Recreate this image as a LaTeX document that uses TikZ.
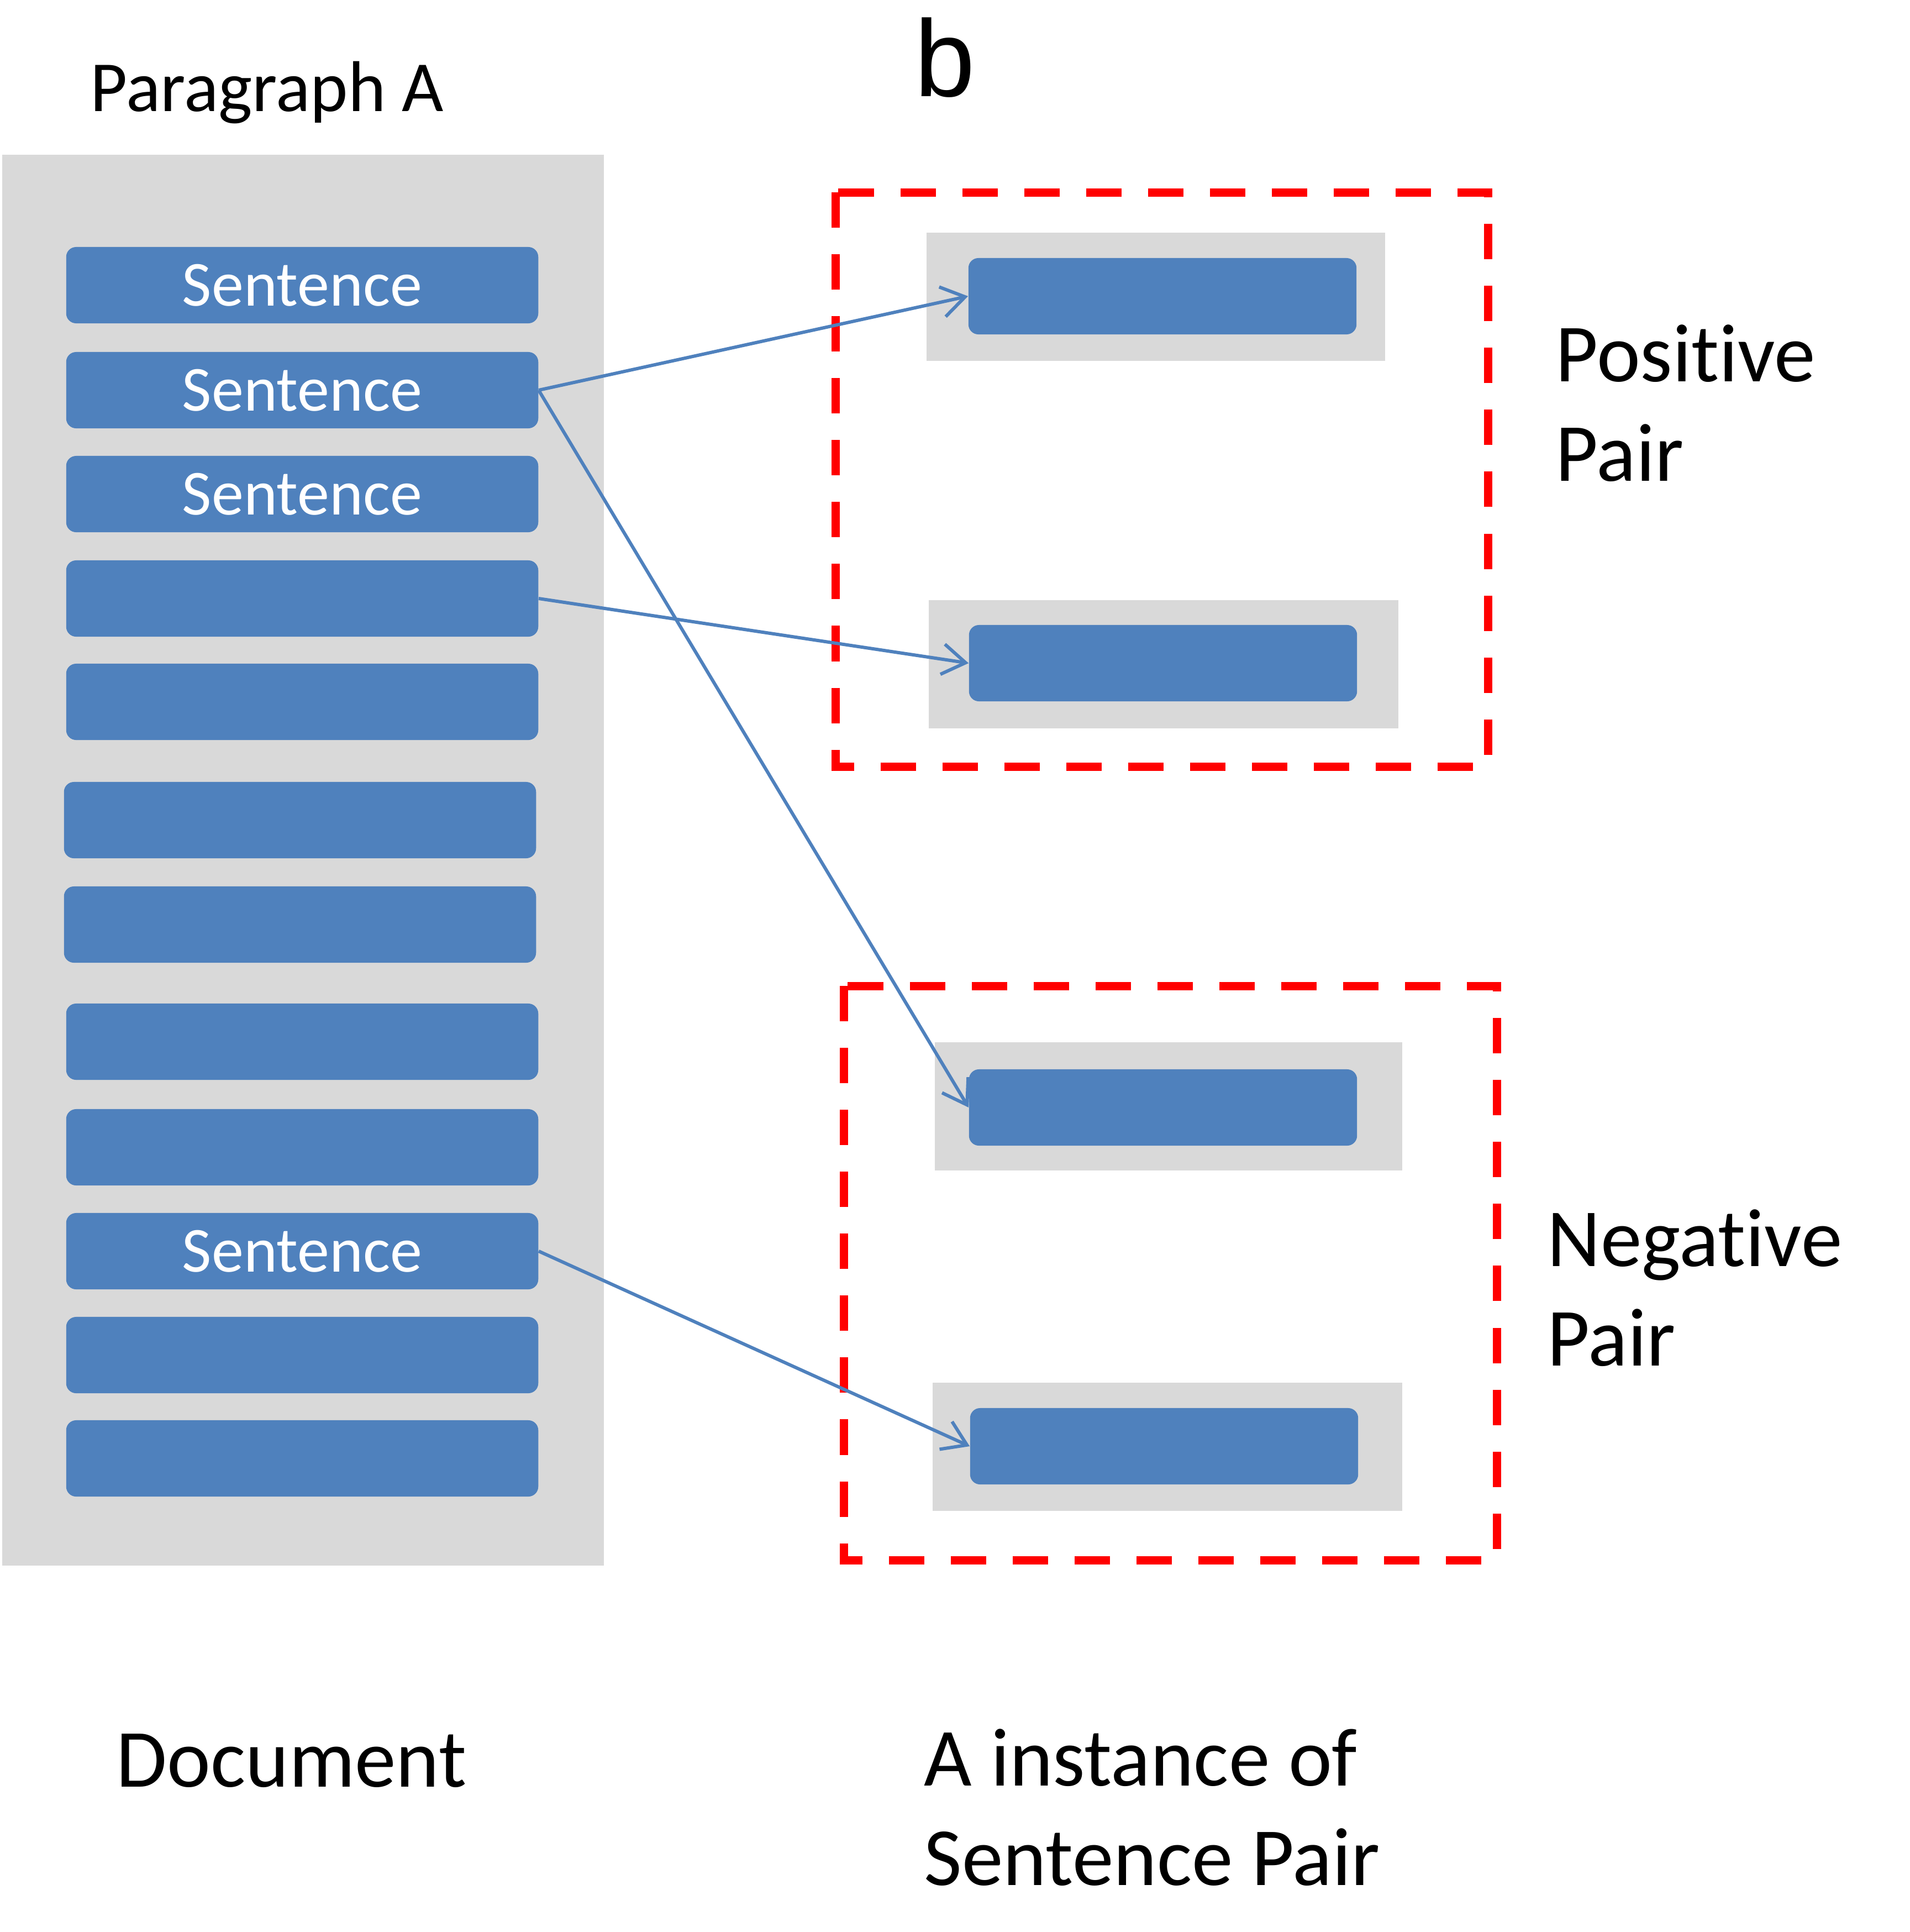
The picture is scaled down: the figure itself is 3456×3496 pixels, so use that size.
\documentclass[tikz,border=0pt]{standalone}
\usepackage{fontspec}
\setmainfont{Carlito}[Ligatures=NoCommon]
\newfontfamily\bfont{Liberation Sans}
\usetikzlibrary{arrows.meta}
\definecolor{boxgray}{HTML}{D9D9D9}
\definecolor{sblue}{HTML}{4F81BD}
\definecolor{dred}{HTML}{FF0000}
\tikzset{
  sbox/.style={fill=sblue, rounded corners=0.18cm, minimum width=8.54cm, minimum height=1.38cm, inner sep=0, text=white, font=\fontsize{33}{40}\selectfont},
  rbox/.style={fill=sblue, rounded corners=0.18cm, minimum width=7.02cm, minimum height=1.38cm, inner sep=0},
  gbox/.style={fill=boxgray, minimum height=2.32cm, inner sep=0},
  redbox/.style={draw=dred, line width=0.15cm, dash pattern=on 0.64cm off 0.48cm},
  link/.style={draw=sblue, line width=0.06cm, -{Straight Barb[length=0.42cm,width=0.55cm]}},
  lbl/.style={anchor=base west, inner sep=0, font=\fontsize{42.5}{51}\selectfont, align=left},
}
\begin{document}
\begin{tikzpicture}[x=0.01cm, y=-0.01cm]
\useasboundingbox (0,0) rectangle (3456,3496);
\fill[white] (0,0) rectangle (3456,3496);
% document gray
\node[fill=boxgray, minimum width=10.89cm, minimum height=25.51cm, inner sep=0] (doc) at (548.5,1556.5) {};
% sentences
\node[sbox] (s1) at (547,516) {Sentence};
\node[sbox] (s2) at (547,706) {Sentence};
\node[sbox] (s3) at (547,894) {Sentence};
\node[sbox] (s4) at (547,1083) {};
\node[sbox] (s5) at (547,1270) {};
\node[sbox] (s6) at (543,1484) {};
\node[sbox] (s7) at (543,1673) {};
\node[sbox] (s8) at (547,1885) {};
\node[sbox] (s9) at (547,2076) {};
\node[sbox] (s10) at (547,2264) {Sentence};
\node[sbox] (s11) at (547,2452) {};
\node[sbox] (s12) at (547,2639) {};
% right gray boxes
\node[gbox, minimum width=8.29cm] (g1) at (2092,537) {};
\node[gbox, minimum width=8.50cm] (g2) at (2106,1202) {};
\node[gbox, minimum width=8.45cm] (g3) at (2115,2002) {};
\node[gbox, minimum width=8.49cm] (g4) at (2113,2618) {};
% right blue boxes
\node[rbox] (p1) at (2104,536) {};
\node[rbox] (p2) at (2105,1200) {};
\node[rbox] (n1) at (2105,2004) {};
\node[rbox] (n2) at (2107,2617) {};
% red dashed
\draw[redbox] (1512,348) rectangle (2693,1387);
\draw[redbox] (1527,1784) rectangle (2709,2823);
% arrows
\draw[link] (s2.east) -- (p1.west);
\draw[link] (s2.east) -- (n1.west);
\draw[link] (s4.east) -- (p2.west);
\draw[link] (s10.east) -- (n2.west);
% labels
\node[anchor=base west, inner sep=0, font=\fontsize{37}{44}\selectfont] (para) at (163,201) {Paragraph A};
\node[anchor=base west, inner sep=0, font=\bfont\fontsize{56}{64}\selectfont] (b) at (1655,174) {b};
\node[lbl] (pos) at (2815,870) {Positive\\Pair};
\node[lbl] (neg) at (2800,2471) {Negative\\Pair};
\node[lbl] (docl) at (210,3233) {Document};
\node[lbl] (inst) at (1672,3411) {A instance of\\Sentence Pair};
\end{tikzpicture}
\end{document}
